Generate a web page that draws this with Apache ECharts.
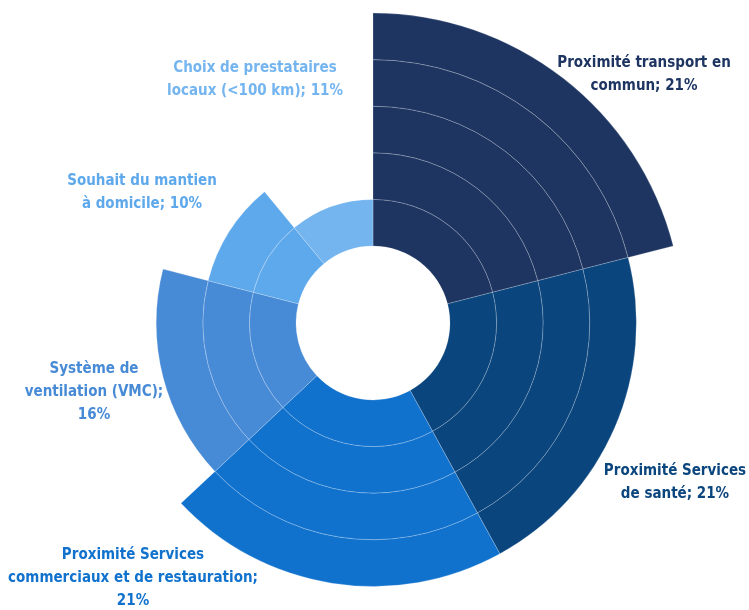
<!DOCTYPE html>
<html>
<head>
<meta charset="utf-8">
<script src="https://cdn.jsdelivr.net/npm/echarts@6/dist/echarts.min.js"></script>
<style>
html,body{margin:0;padding:0;background:#fff;}
#chart{width:749px;height:610px;}
</style>
</head>
<body>
<div id="chart"></div>
<script>
// ---- data ----
var categories = [
  "Proximité transport en\ncommun",
  "Proximité Services\nde santé",
  "Proximité Services\ncommerciaux et de restauration",
  "Système de\nventilation (VMC)",
  "Souhait du mantien\nà domicile",
  "Choix de prestataires\nlocaux (<100 km)"
];
var labelTexts = [
  "Proximité transport en\ncommun; 21%",
  "Proximité Services\nde santé; 21%",
  "Proximité Services\ncommerciaux et de restauration;\n21%",
  "Système de\nventilation (VMC);\n16%",
  "Souhait du mantien\nà domicile; 10%",
  "Choix de prestataires\nlocaux (<100 km); 11%"
];
var shares = [21, 21, 21, 16, 10, 11];   // percent -> angular width
var rings  = [5, 4, 4, 3, 2, 1];         // number of rings per sector (radial extent)
var colors = ["#1E3562", "#0A457D", "#1172CE", "#478AD6", "#5EA8EC", "#74B5F0"];

// ---- layout ----
var cx = 373, cy = 323, hole = 77, ringW = 46.6;
var maxRings = Math.max.apply(null, rings);
var labelPos = [[644, 75], [675, 483], [133, 578], [94, 392], [142, 193], [255, 80]];
var font = '"DejaVu Sans", sans-serif';

var series = [];
for (var k = 0; k < maxRings; k++) {
  series.push({
    type: 'pie',
    center: [cx, cy],
    radius: [hole + ringW * k, hole + ringW * (k + 1)],
    startAngle: 90,
    clockwise: true,
    silent: true,
    animation: false,
    label: {show: false},
    labelLine: {show: false},
    data: shares.map(function (v, i) {
      var on = rings[i] > k;
      return {
        value: v,
        name: categories[i],
        itemStyle: on ? {color: colors[i], borderColor: 'rgba(255,255,255,0.35)', borderWidth: 0.6}
                      : {color: 'rgba(0,0,0,0)', borderWidth: 0}
      };
    })
  });
}
// label-only series
series.push({
  type: 'pie',
  center: [cx, cy],
  radius: [hole, hole + ringW],
  startAngle: 90,
  clockwise: true,
  silent: true,
  animation: false,
  itemStyle: {color: 'rgba(0,0,0,0)'},
  label: {
    show: true,
    position: 'outside',
    fontFamily: font,
    fontWeight: 'bold condensed',
    fontSize: 15,
    lineHeight: 23,
    align: 'center',
    formatter: function (p) { return labelTexts[p.dataIndex]; }
  },
  labelLine: {show: false},
  labelLayout: function (p) {
    var pos = labelPos[p.dataIndex];
    return {x: pos[0], y: pos[1], align: 'center', verticalAlign: 'middle', hideOverlap: false, moveOverlap: false};
  },
  data: shares.map(function (v, i) {
    return {value: v, name: categories[i], label: {color: colors[i]}};
  })
});

var chart = echarts.init(document.getElementById('chart'));
chart.setOption({
  backgroundColor: '#fff',
  animation: false,
  series: series
});
</script>
</body>
</html>
